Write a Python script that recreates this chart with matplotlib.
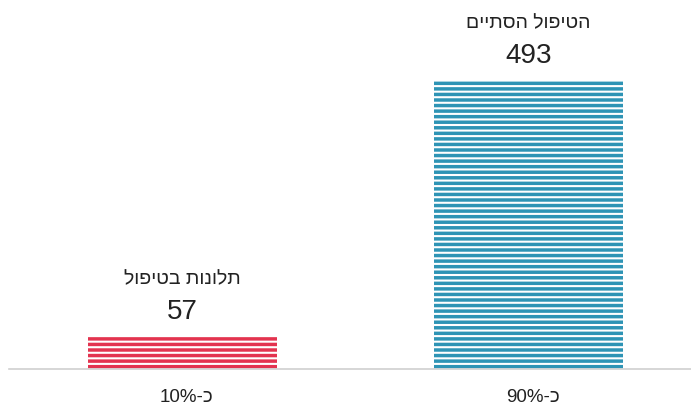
import re
import matplotlib
matplotlib.use("Agg")
import matplotlib.pyplot as plt

# נתונים
categories = ["תלונות בטיפול", "הטיפול הסתיים"]
values = [57, 493]
shares = ["כ-10%", "כ-90%"]
colors = ["#e3334f", "#2e94b5"]

plt.rcParams['font.family'] = ['Liberation Sans', 'DejaVu Sans']
plt.rcParams['hatch.linewidth'] = 1.5


def visual(s):
    # matplotlib לא מטפל ב-RTL: מסדרים את הטקסט בסדר תצוגה
    runs = re.findall(r'[0-9%.,]+|[^0-9%.,]+', s)
    out = []
    for r in reversed(runs):
        out.append(r if re.match(r'[0-9%.,]', r) else r[::-1])
    return "".join(out)


fig = plt.figure(figsize=(6.91, 4.07), dpi=100)
ax = fig.add_axes([0.013, 0.0934, 0.987, 0.8066])

x = range(len(values))
bars = ax.bar(x, values, width=0.546, color=colors, edgecolor='white',
              hatch='---', linewidth=0)

for i, (b, v) in enumerate(zip(bars, values)):
    cx = b.get_x() + b.get_width() / 2
    ax.annotate(str(v), (cx, v), xytext=(0, 12), textcoords='offset points',
                ha='center', va='baseline', fontsize=20, color='#222222')
    ax.annotate(visual(categories[i]), (cx, v), xytext=(0, 37),
                textcoords='offset points', ha='center', va='baseline',
                fontsize=14, color='#222222')
    ax.annotate(visual(shares[i]), (cx, 0), xytext=(3, -24),
                textcoords='offset points', ha='center', va='baseline',
                fontsize=13.5, color='#222222', annotation_clip=False)

ax.set_xlim(-0.501, 1.47)
ax.set_ylim(0, 560)
for s in ['top', 'right', 'left']:
    ax.spines[s].set_visible(False)
ax.spines['bottom'].set_color('#d0d0d0')
ax.spines['bottom'].set_linewidth(1.2)
ax.set_xticks([])
ax.set_yticks([])

fig.savefig("out.png", dpi=100)
